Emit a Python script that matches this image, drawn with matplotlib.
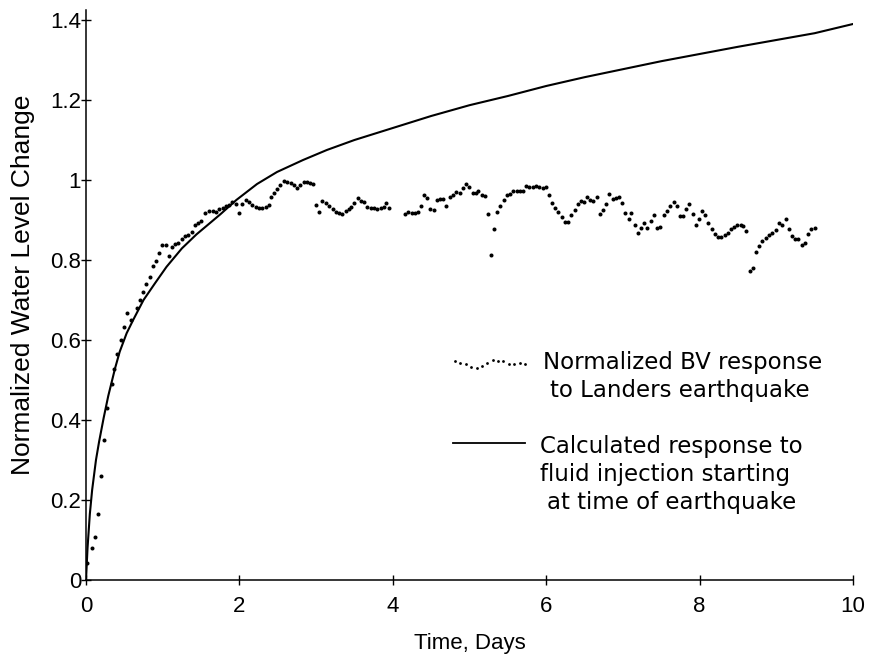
import matplotlib
matplotlib.use("Agg")
import matplotlib.pyplot as plt

# Observed (dots): time in days, normalized water level change
obs_t = [0.017, 0.074, 0.117, 0.156, 0.200, 0.240, 0.280, 0.335, 0.370, 0.410,
         0.450, 0.495, 0.535, 0.587, 0.660, 0.704, 0.747, 0.786, 0.834, 0.868,
         0.907, 0.950, 0.990, 1.040, 1.080, 1.116, 1.160, 1.200, 1.247, 1.290,
         1.330, 1.380, 1.420, 1.460, 1.500, 1.550, 1.600, 1.650, 1.690, 1.730,
         1.780, 1.820, 1.860, 1.900, 1.950, 1.990, 2.040, 2.090, 2.130, 2.170,
         2.220, 2.260, 2.300, 2.350, 2.380, 2.410, 2.450, 2.490, 2.530, 2.580,
         2.620, 2.670, 2.710, 2.750, 2.790, 2.840, 2.880, 2.920, 2.960, 3.000,
         3.040, 3.080, 3.130, 3.170, 3.220, 3.260, 3.300, 3.340, 3.390, 3.430,
         3.460, 3.490, 3.540, 3.580, 3.620, 3.670, 3.710, 3.750, 3.800, 3.840,
         3.880, 3.910, 3.950,
         4.160, 4.200, 4.250, 4.290, 4.330, 4.370, 4.410, 4.450, 4.490, 4.540,
         4.570, 4.620, 4.660, 4.690, 4.740, 4.780, 4.820, 4.870, 4.910, 4.950,
         4.990, 5.040, 5.080, 5.110, 5.160, 5.200, 5.240, 5.280, 5.320, 5.360,
         5.400, 5.450, 5.490, 5.530, 5.570, 5.620, 5.660, 5.700, 5.740, 5.780,
         5.830, 5.870, 5.910, 5.960, 6.000, 6.030, 6.070, 6.110, 6.150, 6.200,
         6.240, 6.280, 6.320, 6.370, 6.410, 6.450, 6.490, 6.530, 6.570, 6.610,
         6.660, 6.700, 6.740, 6.780, 6.820, 6.870, 6.910, 6.950, 6.990, 7.030,
         7.080, 7.110, 7.160, 7.200, 7.240, 7.280, 7.320, 7.370, 7.410, 7.450,
         7.490, 7.540, 7.570, 7.610, 7.660, 7.700, 7.740, 7.780, 7.820, 7.860,
         7.910, 7.950, 7.990, 8.030, 8.070, 8.110, 8.160, 8.200, 8.240, 8.280,
         8.330, 8.370, 8.410, 8.450, 8.490, 8.540, 8.570, 8.610, 8.660, 8.700,
         8.740, 8.780, 8.820, 8.870, 8.910, 8.950, 8.990, 9.030, 9.070, 9.120,
         9.160, 9.200, 9.240, 9.280, 9.330, 9.370, 9.410, 9.450, 9.500]
obs_v = [0.042, 0.079, 0.108, 0.164, 0.260, 0.350, 0.430, 0.490, 0.527, 0.564,
         0.600, 0.632, 0.667, 0.650, 0.680, 0.700, 0.720, 0.740, 0.757, 0.786,
         0.798, 0.818, 0.837, 0.837, 0.810, 0.832, 0.840, 0.843, 0.853, 0.860,
         0.863, 0.870, 0.887, 0.893, 0.898, 0.917, 0.923, 0.923, 0.920, 0.927,
         0.930, 0.935, 0.937, 0.946, 0.940, 0.918, 0.940, 0.950, 0.946, 0.937,
         0.932, 0.929, 0.929, 0.932, 0.937, 0.957, 0.967, 0.977, 0.987, 0.998,
         0.996, 0.992, 0.987, 0.979, 0.987, 0.996, 0.996, 0.993, 0.990, 0.937,
         0.919, 0.948, 0.943, 0.935, 0.927, 0.921, 0.917, 0.914, 0.923, 0.927,
         0.933, 0.943, 0.954, 0.947, 0.946, 0.933, 0.931, 0.929, 0.928, 0.929,
         0.932, 0.943, 0.931,
         0.915, 0.921, 0.918, 0.917, 0.921, 0.936, 0.963, 0.954, 0.927, 0.925,
         0.950, 0.952, 0.953, 0.936, 0.957, 0.963, 0.971, 0.967, 0.979, 0.991,
         0.982, 0.967, 0.968, 0.973, 0.963, 0.960, 0.914, 0.812, 0.877, 0.921,
         0.935, 0.950, 0.963, 0.965, 0.973, 0.972, 0.973, 0.973, 0.985, 0.982,
         0.982, 0.985, 0.983, 0.979, 0.982, 0.963, 0.943, 0.931, 0.921, 0.907,
         0.895, 0.896, 0.912, 0.925, 0.940, 0.947, 0.946, 0.957, 0.950, 0.948,
         0.957, 0.914, 0.925, 0.940, 0.964, 0.952, 0.954, 0.957, 0.942, 0.918,
         0.902, 0.917, 0.887, 0.868, 0.881, 0.892, 0.879, 0.897, 0.912, 0.879,
         0.883, 0.912, 0.923, 0.936, 0.946, 0.935, 0.911, 0.911, 0.927, 0.939,
         0.914, 0.887, 0.902, 0.923, 0.912, 0.893, 0.878, 0.865, 0.857, 0.858,
         0.862, 0.868, 0.877, 0.882, 0.887, 0.888, 0.885, 0.873, 0.772, 0.779,
         0.819, 0.835, 0.848, 0.854, 0.862, 0.868, 0.875, 0.892, 0.887, 0.902,
         0.877, 0.860, 0.852, 0.852, 0.837, 0.842, 0.865, 0.877, 0.880]

# Calculated response (solid line)
calc_t = [0.0, 0.02, 0.05, 0.08, 0.13, 0.17, 0.23, 0.29, 0.38, 0.44, 0.53, 0.62,
          0.75, 0.90, 1.05, 1.25, 1.44, 1.62, 1.75, 1.96, 2.23, 2.49, 2.83, 3.14,
          3.5, 4.0, 4.5, 5.0, 5.5, 6.0, 6.5, 7.0, 7.5, 8.0, 8.5, 9.0, 9.5, 10.0]
calc_v = [0.0, 0.08, 0.165, 0.225, 0.30, 0.345, 0.405, 0.46, 0.53, 0.571, 0.617,
          0.652, 0.70, 0.742, 0.783, 0.829, 0.864, 0.893, 0.914, 0.950, 0.99, 1.02,
          1.05, 1.075, 1.10, 1.13, 1.16, 1.187, 1.21, 1.235, 1.257, 1.277, 1.297,
          1.315, 1.333, 1.35, 1.367, 1.39]

x_ticks = [0, 2, 4, 6, 8, 10]
x_tick_labels = ["0", "2", "4", "6", "8", "10"]
y_ticks = [0, 0.2, 0.4, 0.6, 0.8, 1.0, 1.2, 1.4]
y_tick_labels = ["0", "0.2", "0.4", "0.6", "0.8", "1", "1.2", "1.4"]

legend_obs = ["Normalized BV response", "to Landers earthquake"]
legend_calc = ["Calculated response to", "fluid injection starting", "at time of earthquake"]

plt.rcParams['font.family'] = ['Liberation Sans', 'DejaVu Sans']

fig = plt.figure(figsize=(8.69, 6.59), dpi=100)
ax = fig.add_axes([86 / 869, 79 / 659, 767 / 869, 1.42 * 400 / 659])

ax.plot(calc_t, calc_v, color='black', lw=1.5, solid_joinstyle='round')
ax.plot(obs_t, obs_v, ls='none', marker='o', ms=2.9, mfc='black', mec='black', mew=0)

ax.set_xlim(0, 10)
ax.set_ylim(0, 1.42)
ax.spines['top'].set_visible(False)
ax.spines['right'].set_visible(False)
ax.spines['left'].set_linewidth(1.1)
ax.spines['bottom'].set_linewidth(1.1)
ax.spines['left'].set_bounds(0, 1.425)
ax.set_xticks(x_ticks)
ax.set_xticklabels(x_tick_labels)
ax.set_yticks(y_ticks)
ax.set_yticklabels(y_tick_labels)
ax.tick_params(axis='both', direction='inout', length=7, width=1.0, labelsize=16)
ax.tick_params(axis='y', pad=0)
ax.tick_params(axis='x', pad=8)

ax.set_xlabel("Time, Days", fontsize=16)
ax.xaxis.set_label_coords(0.5, -(643 - 580) / 568)
ax.xaxis.label.set_va('center')
ax.set_ylabel("Normalized Water Level Change", fontsize=19)
ax.yaxis.set_label_coords(-(86 - 23) / 767, (580 - 285) / 568)
ax.yaxis.label.set_va('center')

# Legend drawn manually
def ax_frac(px, py):
    return ((px - 86) / 767, (580 - py) / 568)

lx0, ly0 = ax_frac(455, 362)
lx1, _ = ax_frac(525, 362)
n = 14
sample_dy = [0.002, -0.001, -0.004, -0.008, -0.010, -0.007, -0.002, 0.004,
             0.002, 0.001, -0.003, -0.003, -0.002, -0.004]
xs = [lx0 + (lx1 - lx0) * i / (n - 1) for i in range(n)]
ys = [ly0 + d for d in sample_dy]
ax.plot(xs, ys, ls='none', marker='o', ms=2.0, mfc='black', mec='black', mew=0,
        transform=ax.transAxes, clip_on=False)

leg_fs = 16.5
tx, ty = ax_frac(543, 362)
ax.text(tx, ty, legend_obs[0], transform=ax.transAxes, fontsize=leg_fs, va='center', ha='left',
        family=['DejaVu Sans'])
tx, ty = ax_frac(550, 391)
ax.text(tx, ty, legend_obs[1], transform=ax.transAxes, fontsize=leg_fs, va='center', ha='left',
        family=['DejaVu Sans'])

lx0, ly = ax_frac(453, 443)
lx1, _ = ax_frac(525, 443)
ax.plot([lx0, lx1], [ly, ly], color='black', lw=1.3, transform=ax.transAxes, clip_on=False)

for i, (s, px) in enumerate(zip(legend_calc, [540, 540, 547])):
    tx, ty = ax_frac(px, 447 + 28 * i)
    ax.text(tx, ty, s, transform=ax.transAxes, fontsize=leg_fs, va='center', ha='left',
            family=['DejaVu Sans'])

fig.savefig("out.png", dpi=100)
